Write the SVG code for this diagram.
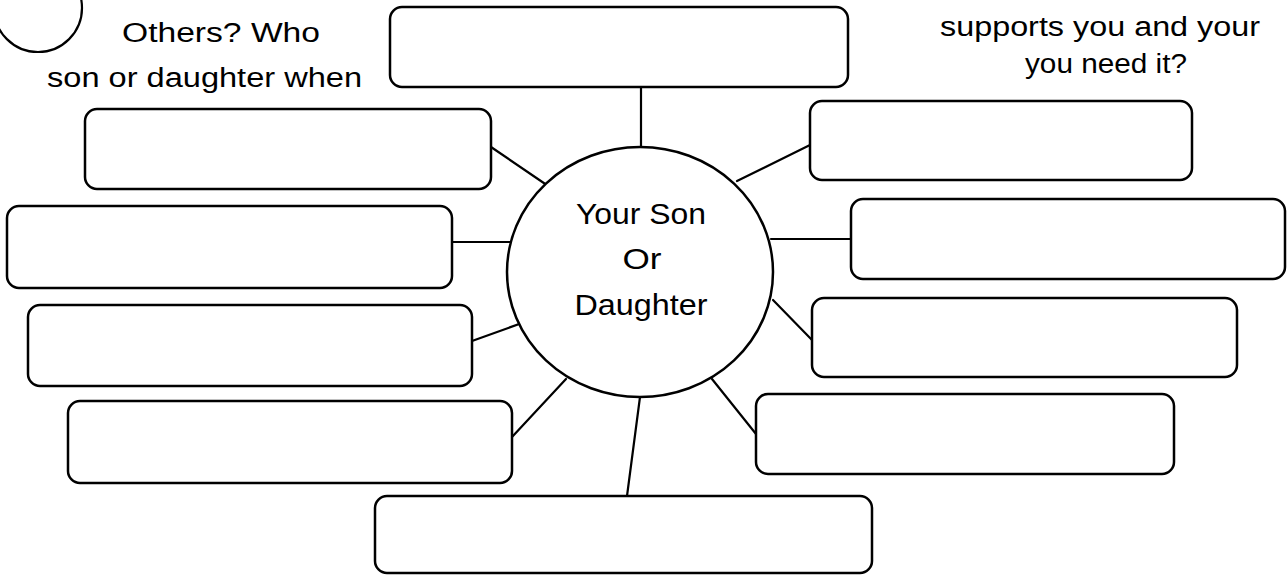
<svg xmlns="http://www.w3.org/2000/svg" width="1287" height="575" viewBox="0 0 1287 575">
<style>
.box{fill:#fff;stroke:#000;stroke-width:2.5}
.conn line{stroke:#000;stroke-width:2.2;stroke-linecap:round}
.t{font-family:"Liberation Sans",Arial,sans-serif;fill:#000}
.hd{font-size:27px}
.ct{font-size:30px}
</style>
<rect width="1287" height="575" fill="#fff"/>
<g id="badge"><circle cx="38" cy="8" r="44" fill="none" stroke="#000" stroke-width="2.2"/></g>
<g id="heading-left">
<text class="t hd" x="122" y="42" textLength="198" lengthAdjust="spacingAndGlyphs">Others? Who</text>
<text class="t hd" x="47" y="87" textLength="315" lengthAdjust="spacingAndGlyphs">son or daughter when</text>
</g>
<g id="heading-right">
<text class="t hd" x="940" y="36" textLength="320" lengthAdjust="spacingAndGlyphs">supports you and your</text>
<text class="t hd" x="1025" y="73" textLength="162" lengthAdjust="spacingAndGlyphs">you need it?</text>
</g>
<g id="connectors" class="conn">
<line x1="641" y1="87" x2="641" y2="147"/>
<line x1="491" y1="147" x2="546" y2="184.5"/>
<line x1="452" y1="242" x2="511" y2="242"/>
<line x1="472" y1="341" x2="522" y2="323"/>
<line x1="512" y1="437" x2="566" y2="379"/>
<line x1="627" y1="496" x2="640" y2="397"/>
<line x1="756" y1="434" x2="712" y2="379"/>
<line x1="773" y1="300" x2="812" y2="340"/>
<line x1="771" y1="239" x2="851" y2="239"/>
<line x1="737" y1="181" x2="810" y2="145"/>
</g>
<g id="center">
<ellipse cx="640" cy="272" rx="133" ry="125" fill="#fff" stroke="#000" stroke-width="2.5"/>
<text class="t ct" x="641" y="224" text-anchor="middle" textLength="130" lengthAdjust="spacingAndGlyphs">Your Son</text>
<text class="t ct" x="642" y="269" text-anchor="middle" textLength="39" lengthAdjust="spacingAndGlyphs">Or</text>
<text class="t ct" x="641" y="315" text-anchor="middle" textLength="133" lengthAdjust="spacingAndGlyphs">Daughter</text>
</g>
<g id="box-top"><rect class="box" x="390" y="7" width="458" height="80" rx="12"/></g>
<g id="box-left-1"><rect class="box" x="85" y="109" width="406" height="80" rx="12"/></g>
<g id="box-left-2"><rect class="box" x="7" y="206" width="445" height="82" rx="12"/></g>
<g id="box-left-3"><rect class="box" x="28" y="305" width="444" height="81" rx="12"/></g>
<g id="box-left-4"><rect class="box" x="68" y="401" width="444" height="82" rx="12"/></g>
<g id="box-bottom"><rect class="box" x="375" y="496" width="497" height="77" rx="12"/></g>
<g id="box-right-1"><rect class="box" x="810" y="101" width="382" height="79" rx="12"/></g>
<g id="box-right-2"><rect class="box" x="851" y="199" width="434" height="80" rx="12"/></g>
<g id="box-right-3"><rect class="box" x="812" y="298" width="425" height="79" rx="12"/></g>
<g id="box-right-4"><rect class="box" x="756" y="394" width="418" height="80" rx="12"/></g>
</svg>
